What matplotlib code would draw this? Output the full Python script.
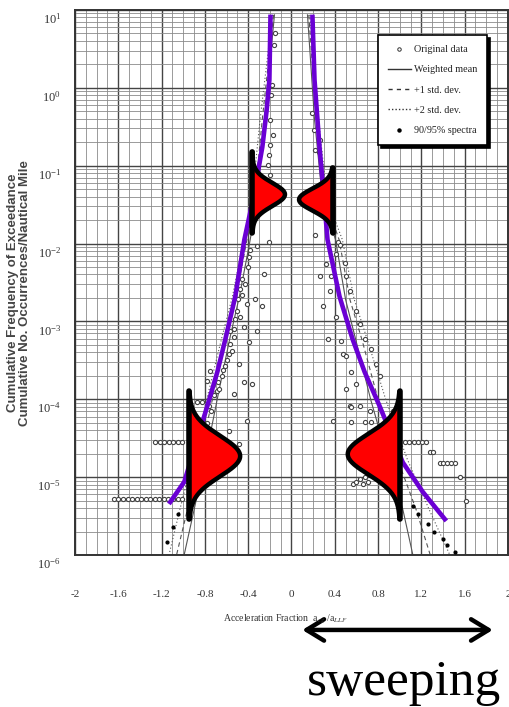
"Exceedance curves for the acceleration fraction with the sweep band"
import matplotlib
matplotlib.use('Agg')
import matplotlib.pyplot as plt
import numpy as np
from matplotlib.lines import Line2D
from matplotlib.ticker import MultipleLocator, LogLocator, NullFormatter, FixedLocator
from matplotlib.transforms import ScaledTranslation

# original data points, x = a/a_llf, exponent = log10(exceedances per n.mile)
orig_left_x = [-0.148, -0.157, -0.176, -0.185, -0.194, -0.167, -0.194, -0.204, -0.213, -0.194,
               -0.204, -0.315, -0.380, -0.389, -0.250, -0.454, -0.472, -0.491, -0.333, -0.269,
               -0.407, -0.500, -0.519, -0.528, -0.435, -0.315, -0.565, -0.565, -0.389, -0.574,
               -0.481, -0.611, -0.639, -0.435, -0.361, -0.778, -0.685, -0.528, -0.870, -0.824,
               -0.750, -0.667, -0.759, -0.407, -0.574, -0.481,
               -0.400, -0.430, -0.460, -0.480, -0.530, -0.550, -0.600, -0.630, -0.680, -0.720,
               -0.740, -0.780]
orig_left_exp = [0.705, 0.551, 0.038, -0.090, -0.410, -0.603, -0.731, -0.859, -0.987, -1.115,
                 -1.987, -2.038, -2.077, -2.167, -2.397, -2.462, -2.590, -2.718, -2.718, -2.808,
                 -2.782, -2.872, -2.974, -3.103, -3.077, -3.128, -3.128, -3.295, -3.269, -3.423,
                 -3.551, -3.577, -3.705, -3.782, -3.808, -3.769, -3.897, -3.936, -4.038, -4.038,
                 -3.641, -3.872, -4.090, -4.282, -4.410, -4.577,
                 -2.300, -2.520, -2.660, -2.950, -3.200, -3.380, -3.500, -3.620, -3.780, -3.950,
                 -4.150, -4.300]
row_left_a_x = [-1.260, -1.218, -1.176, -1.134, -1.092, -1.050, -1.010]
row_left_a_exp = [-4.551] * 7
row_left_b_x = [-1.640, -1.598, -1.556, -1.514, -1.472, -1.430, -1.388, -1.346,
                -1.304, -1.262, -1.220, -1.178, -1.136, -1.094, -1.052, -1.010]
row_left_b_exp = [-5.282] * 16

orig_right_x = [0.194, 0.204, 0.213, 0.259, 0.250, 0.222, 0.426, 0.444, 0.407, 0.315,
                0.491, 0.259, 0.361, 0.500, 0.352, 0.537, 0.287, 0.407, 0.593, 0.630,
                0.333, 0.454, 0.676, 0.731, 0.472, 0.500, 0.778, 0.546, 0.815, 0.500,
                0.593, 0.537, 0.630, 0.380, 0.546, 0.546, 0.676, 0.731, 0.722, 0.935,
                0.565, 0.593, 0.630, 0.657, 0.676, 0.704, 1.280, 1.310, 1.560, 1.610]
orig_right_exp = [-0.320, -0.538, -0.795, -0.667, -0.820, -1.885, -1.987, -2.013, -2.141, -2.269,
                  -2.244, -2.423, -2.423, -2.423, -2.615, -2.615, -2.808, -2.949, -2.872, -3.038,
                  -3.231, -3.256, -3.231, -3.359, -3.423, -3.449, -3.551, -3.654, -3.705, -3.872,
                  -3.808, -4.090, -4.090, -4.282, -4.103, -4.295, -4.295, -4.295, -4.154, -4.154,
                  -5.090, -5.064, -5.026, -5.090, -5.000, -5.064, -4.679, -4.679, -5.000, -5.308]
row_right_a_x = [1.050, 1.090, 1.130, 1.170, 1.210, 1.240]
row_right_a_exp = [-4.551] * 6
row_right_b_x = [1.370, 1.400, 1.440, 1.470, 1.510]
row_right_b_exp = [-4.821] * 5

# 90/95% spectra
spec_x = [1.120, 1.167, 1.260, 1.320, 1.400, 1.440, 1.510, -1.046, -1.090, -1.150]
spec_exp = [-5.37, -5.47, -5.60, -5.71, -5.79, -5.87, -5.96, -5.47, -5.64, -5.83]

# weighted mean and std dev curves (left and right branch)
mean_left_x = [-0.157, -0.250, -0.315, -0.389, -0.481, -0.565, -0.667, -0.778, -0.898, -0.990]
mean_right_x = [0.148, 0.213, 0.287, 0.407, 0.500, 0.593, 0.731, 0.889, 1.028, 1.120]
sd1_left_x = [-0.165, -0.270, -0.340, -0.420, -0.510, -0.600, -0.710, -0.830, -0.960, -1.060]
sd1_right_x = [0.160, 0.230, 0.310, 0.440, 0.540, 0.650, 0.800, 0.980, 1.150, 1.280]
sd2_left_x = [-0.175, -0.290, -0.365, -0.450, -0.545, -0.640, -0.760, -0.890, -1.030, -1.130]
sd2_right_x = [0.170, 0.250, 0.330, 0.470, 0.580, 0.700, 0.870, 1.070, 1.270, 1.460]
curve_left_exp = [0.936, -0.41, -1.436, -2.01, -2.68, -3.19, -3.87, -4.64, -5.41, -5.99]
curve_right_exp = [0.936, -0.41, -1.436, -1.95, -2.72, -3.23, -4.00, -4.77, -5.41, -5.99]

# fitted envelope (purple)
fit_left_x = [-0.194, -0.204, -0.230, -0.269, -0.350, -0.435, -0.519, -0.611, -0.685,
              -0.778, -0.898, -0.990, -1.120]
fit_left_exp = [0.91, 0.10, -0.30, -0.76, -1.40, -1.95, -2.68, -3.23, -3.65,
                -4.09, -4.64, -5.06, -5.32]
fit_right_x = [0.194, 0.213, 0.259, 0.300, 0.333, 0.444, 0.565, 0.676, 0.815,
               1.028, 1.213, 1.417]
fit_right_exp = [0.91, 0.10, -0.76, -1.40, -1.95, -2.68, -3.23, -3.65, -4.09,
                 -4.81, -5.19, -5.54]

# scatter bumps: base x, peak offset, centre exponent, spread, line from / to exponent
bump_x0 = [-0.36, 0.38, -0.944, 1.00]
bump_amp = [0.30, -0.31, 0.47, -0.48]
bump_c = [-1.37, -1.436, -4.73, -4.705]
bump_sig = [0.15, 0.14, 0.26, 0.26]
bump_top = [-0.82, -1.026, -3.90, -3.90]
bump_bot = [-1.86, -1.86, -5.54, -5.54]

# sweep range along x
sweep_lo = 0.10
sweep_hi = 1.86

xticks = [-2, -1.6, -1.2, -0.8, -0.4, 0, 0.4, 0.8, 1.2, 1.6, 2]
xtick_labels = ['-2', '-1.6', '-1.2', '-0.8', '-0.4', '0', '0.4', '0.8', '1.2', '1.6', '2']

PURPLE = '#6a00d4'
SERIF = 'Liberation Serif'


def pw(exps):
    "powers of ten"
    return 10.0 ** np.asarray(exps)


def draw_bump(ax, x0, amp, c, sig, top, bot):
    "half gaussian sitting on a vertical base line"
    t = np.linspace(bot, top, 200)
    xs = x0 + amp * np.exp(-(t - c) ** 2 / (2 * sig ** 2))
    ax.fill_betweenx(pw(t), x0, xs, color='red', zorder=6, lw=0)
    ax.plot(xs, pw(t), color='black', lw=3.2, zorder=7, solid_capstyle='round')
    ax.plot([x0, x0], pw([bot, top]), color='black', lw=4, zorder=7, solid_capstyle='round')


def main():
    plt.rcParams['mathtext.fontset'] = 'stix'
    fig = plt.figure(figsize=(5.1, 7.07), dpi=100)
    ax = fig.add_axes([0.147, 0.215, 0.849, 0.771])
    ax.set_yscale('log')
    ax.set_xlim(-2, 2)
    ax.set_ylim(1e-6, 10)

    ax.xaxis.set_major_locator(FixedLocator(xticks))
    ax.set_xticklabels(xtick_labels)
    ax.xaxis.set_minor_locator(MultipleLocator(0.1))
    ax.yaxis.set_major_locator(LogLocator(base=10, numticks=20))
    ax.yaxis.set_minor_locator(LogLocator(base=10, subs=np.arange(2, 10), numticks=20))
    ax.yaxis.set_minor_formatter(NullFormatter())
    ax.grid(which='major', color='#444444', lw=1.0)
    ax.grid(which='minor', color='#8a8a8a', lw=0.6)
    ax.set_axisbelow(True)
    ax.tick_params(which='both', length=0)
    ax.tick_params(axis='x', pad=25, labelsize=8, labelcolor='#333333')
    ax.tick_params(axis='y', pad=10, labelsize=9, labelcolor='#333333')
    for lab in ax.get_xticklabels() + ax.get_yticklabels():
        lab.set_family(SERIF)
    shift = ScaledTranslation(0, -0.08, fig.dpi_scale_trans)
    for lab in ax.get_yticklabels():
        lab.set_transform(lab.get_transform() + shift)
    for sp in ax.spines.values():
        sp.set_linewidth(1.4)
        sp.set_color('#333333')

    # data
    ms = 3.0
    for xs, es in [(orig_left_x, orig_left_exp), (row_left_a_x, row_left_a_exp),
                   (row_left_b_x, row_left_b_exp), (orig_right_x, orig_right_exp),
                   (row_right_a_x, row_right_a_exp), (row_right_b_x, row_right_b_exp)]:
        ax.plot(xs, pw(es), 'o', ms=ms, mfc='white', mec='#444444', mew=0.8, zorder=3)
    ax.plot(spec_x, pw(spec_exp), 'o', ms=2.0, color='black', zorder=3)

    ax.plot(mean_left_x, pw(curve_left_exp), color='#555555', lw=0.8, zorder=2)
    ax.plot(mean_right_x, pw(curve_right_exp), color='#555555', lw=0.8, zorder=2)
    ax.plot(sd1_left_x, pw(curve_left_exp), color='#555555', lw=0.8, ls=(0, (4, 3)), zorder=2)
    ax.plot(sd1_right_x, pw(curve_right_exp), color='#555555', lw=0.8, ls=(0, (4, 3)), zorder=2)
    ax.plot(sd2_left_x, pw(curve_left_exp), color='#555555', lw=0.8, ls=(0, (1, 2)), zorder=2)
    ax.plot(sd2_right_x, pw(curve_right_exp), color='#555555', lw=0.8, ls=(0, (1, 2)), zorder=2)

    ax.plot(fit_left_x, pw(fit_left_exp), color=PURPLE, lw=3.3, zorder=5)
    ax.plot(fit_right_x, pw(fit_right_exp), color=PURPLE, lw=3.3, zorder=5)

    for i in range(len(bump_x0)):
        draw_bump(ax, bump_x0[i], bump_amp[i], bump_c[i], bump_sig[i], bump_top[i], bump_bot[i])

    handles = [
        Line2D([], [], ls='none', marker='o', ms=2.5, mfc='white', mec='#333333', mew=0.7),
        Line2D([], [], color='#333333', lw=1.0),
        Line2D([], [], color='#333333', lw=1.0, ls=(0, (3, 3))),
        Line2D([], [], color='#333333', lw=1.0, ls=(0, (1, 1.5))),
        Line2D([], [], ls='none', marker='o', ms=2.2, color='black'),
    ]
    labels = ['Original data', 'Weighted mean', '+1 std. dev.', '+2 std. dev.', '90/95% spectra']
    leg = ax.legend(handles, labels, loc='upper left', bbox_to_anchor=(0.70, 0.954),
                    borderaxespad=0,
                    prop={'family': SERIF, 'size': 7.3}, frameon=True, fancybox=False,
                    edgecolor='black', framealpha=1, handlelength=2.2, handletextpad=0.3,
                    labelspacing=1.1, borderpad=1.0,
                    shadow={'facecolor': 'black', 'edgecolor': 'black', 'alpha': 1})
    leg.get_frame().set_linewidth(1.2)
    for txt in leg.get_texts():
        txt.set_color('#222222')
    leg.set_zorder(8)

    fig.text(0.037, 0.586, 'Cumulative Frequency of Exceedance\nCumulative No. Occurrences/Nautical Mile',
             rotation=90, ha='center', va='center', fontsize=9.5, fontweight='bold',
             family='Liberation Sans', color='#444444', linespacing=0.95)
    fig.text(0.56, 0.124, 'Acceleration Fraction  a$_{cg}$ /a$_{LLF}$', ha='center', va='center',
             fontsize=7, family=SERIF, color='#333333')

    ax.annotate('', xy=(sweep_hi, 0.109), xytext=(sweep_lo, 0.109),
                xycoords=('data', 'figure fraction'), textcoords=('data', 'figure fraction'),
                arrowprops=dict(arrowstyle='<->, head_length=0.9, head_width=0.55',
                                lw=3.2, color='black', mutation_scale=14,
                                shrinkA=0, shrinkB=0),
                annotation_clip=False)
    ax.annotate('sweeping', xy=((sweep_lo + sweep_hi) / 2 + 0.06, 0.017),
                xycoords=('data', 'figure fraction'), ha='center', va='baseline',
                fontsize=37, family=SERIF, annotation_clip=False)

    fig.savefig('out.png', dpi=100)


if __name__ == '__main__':
    main()
